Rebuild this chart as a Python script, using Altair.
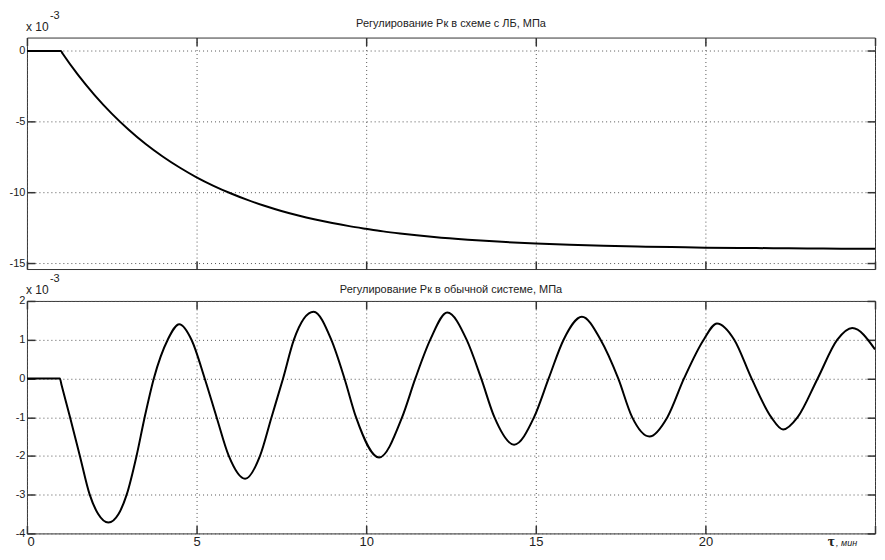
import altair as alt
import pandas as pd

title_top = "Регулирование Рк в схеме с ЛБ, МПа"
title_bot = "Регулирование Рк в обычной системе, МПа"
x_ticks = [0, 5, 10, 15, 20, 25]
y_ticks_top = [0, -5, -10, -15]
y_ticks_bot = [2, 1, 0, -1, -2, -3, -4]
y_dom_top = [-15.4, 0.95]
y_dom_bot = [-4, 2]
scale_note = "x 10"
scale_exp = "-3"
x_unit_sym = "τ"
x_unit = " , мин"

# top panel: regulation with LB scheme (x 1e-3 MPa)
t_top = [0, 1.0, 1.05, 1.5, 2.0, 2.5, 3.0, 3.5, 4.0, 4.5, 5.0, 5.5, 6.0, 6.5, 7.0, 7.5,
         8.0, 8.5, 9.0, 9.5, 10.0, 10.5, 11.0, 12.0, 13.0, 14.0, 15.0, 16.0, 17.0,
         18.0, 19.0, 20.0, 21.0, 22.0, 23.0, 24.0, 25.0]
v_top = [0, 0, -0.18, -1.67, -3.13, -4.42, -5.56, -6.57, -7.45, -8.23, -8.92, -9.52, -10.05,
         -10.52, -10.93, -11.30, -11.62, -11.90, -12.15, -12.37, -12.56, -12.74, -12.89,
         -13.14, -13.33, -13.48, -13.60, -13.69, -13.76, -13.81, -13.85, -13.89, -13.91,
         -13.93, -13.95, -13.96, -13.97]

# bottom panel: regulation in ordinary system (x 1e-3 MPa)
t_bot = [0, 0.97, 1.02, 1.27, 1.56, 1.85, 2.1, 2.4, 2.7, 2.94, 3.23, 3.47, 3.74, 4.15, 4.49,
         4.85, 5.24, 5.59, 5.95, 6.43, 6.87, 7.21, 7.55, 7.87, 8.45, 8.97, 9.36, 9.70,
         10.38, 11.06, 11.45, 11.89, 12.39, 12.96, 13.39, 13.78, 14.36, 14.95, 15.38,
         15.82, 16.36, 16.91, 17.43, 17.84, 18.35, 18.88, 19.37, 19.95, 20.34, 20.85,
         21.36, 21.94, 22.29, 22.72, 23.31, 23.89, 24.33, 25.0]
v_bot = [0, 0, -0.17, -1.0, -2.0, -3.0, -3.5, -3.72, -3.5, -3.0, -2.0, -1.0, 0, 1.0, 1.40,
         1.0, 0, -1.0, -2.0, -2.59, -2.0, -1.0, 0, 1.0, 1.72, 1.0, 0, -1.0,
         -2.04, -1.0, 0, 1.0, 1.70, 1.0, 0, -1.0, -1.71, -1.0, 0,
         1.0, 1.59, 1.0, 0, -1.0, -1.50, -1.0, 0, 1.0, 1.42, 1.0,
         0, -1.0, -1.32, -1.0, 0, 1.0, 1.30, 0.75]

W = 850
H_TOP = 232
H_BOT = 233
FONT = "Liberation Sans"


def text_layer(s, x, y, size=11, align="left", style="normal", weight="normal", font=FONT):
    return alt.Chart(pd.DataFrame({"s": [s]})).mark_text(
        align=align, baseline="alphabetic", fontSize=size, font=font,
        fontStyle=style, fontWeight=weight, color="#222"
    ).encode(text="s:N", x=alt.value(x), y=alt.value(y))


def panel(t, v, ydom, yticks, title, h, show_x_labels, title_y):
    df = pd.DataFrame({"t": t, "v": v})
    xs = alt.Scale(domain=[0, 25], nice=False, zero=False)
    ys = alt.Scale(domain=ydom, nice=False, zero=False)
    x_axis = alt.Axis(values=x_ticks, grid=True, domain=False, tickSize=8, offset=-8,
                      labels=show_x_labels,
                      labelExpr="datum.value == 25 ? '' : '' + datum.value",
                      labelFontSize=13, labelPadding=2, title=None, orient="bottom")
    y_axis = alt.Axis(values=yticks, grid=True, domain=False, tickSize=8, offset=-8,
                      labelExpr="'' + datum.value",
                      labelFontSize=11, labelPadding=2, title=None, orient="left")
    line = alt.Chart(df).mark_line(color="black", strokeWidth=2, interpolate="monotone",
                                   clip=True).encode(
        x=alt.X("t:Q", scale=xs, axis=x_axis),
        y=alt.Y("v:Q", scale=ys, axis=y_axis),
    )
    ghost = alt.Chart(df).mark_line(opacity=0).encode(
        x=alt.X("t:Q", scale=xs, axis=alt.Axis(orient="top", values=x_ticks, grid=False,
                                              domain=False, labels=False, tickSize=8,
                                              offset=-8, title=None)),
        y=alt.Y("v:Q", scale=ys, axis=alt.Axis(orient="right", values=yticks, grid=False,
                                              domain=False, labels=False, tickSize=8,
                                              offset=-8, title=None)),
    )
    layers = [line, ghost,
              text_layer(title, W / 2, title_y, size=11, align="center"),
              text_layer(scale_note, -1, -7, size=12),
              text_layer(scale_exp, 23, -19, size=11)]
    if show_x_labels:
        layers.append(text_layer(x_unit_sym, 806, h + 13, size=15, align="center",
                                 weight="bold", font="Liberation Serif"))
        layers.append(text_layer(x_unit, 811, h + 13, size=9, style="italic"))
    return alt.layer(*layers).resolve_axis(x="independent", y="independent").properties(
        width=W, height=h)


top = panel(t_top, v_top, y_dom_top, y_ticks_top, title_top, H_TOP, False, -11)
bot = panel(t_bot, v_bot, y_dom_bot, y_ticks_bot, title_bot, H_BOT, True, -8)

chart = alt.vconcat(top, bot, spacing=32, bounds="flush").properties(
    padding={"left": 0, "top": 0, "right": 0, "bottom": 0},
    background="white",
).configure_view(stroke="#333", strokeWidth=1).configure_axis(
    gridColor="#555", gridDash=[1, 3], gridOpacity=1, gridWidth=1,
    labelColor="#222", labelFont=FONT, tickColor="#333", tickWidth=1.5,
)

chart.save("out.html", embed_options={"renderer": "svg", "actions": False})
